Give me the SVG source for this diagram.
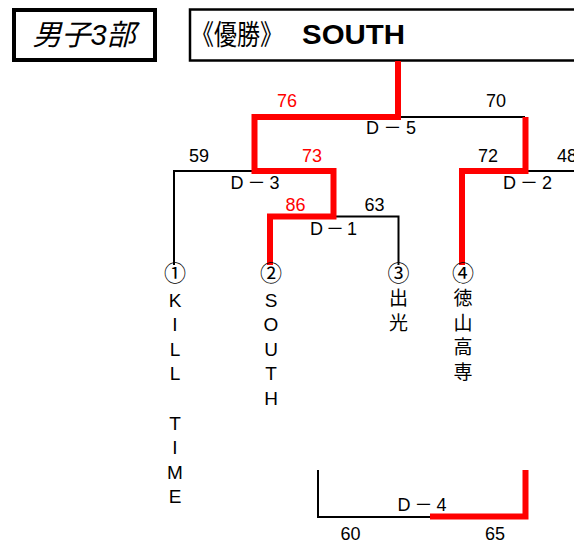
<svg xmlns="http://www.w3.org/2000/svg" width="574" height="544" viewBox="0 0 574 544">
<style>
text{font-family:"Liberation Sans","Noto Sans CJK JP",sans-serif;fill:#000}
.n{font-size:18px;text-anchor:middle}
.r{fill:#ff0000}
.m{font-size:18px;text-anchor:middle}
.t{font-size:19px;text-anchor:middle}
.j{font-family:"Noto Sans CJK JP",sans-serif;font-size:19px;text-anchor:middle}
.c{font-family:"Noto Sans CJK JP",sans-serif;font-size:22px;text-anchor:middle}
.bk{fill:none;stroke:#000;stroke-width:2}
.rd{fill:none;stroke:#ff0000;stroke-width:6;stroke-linejoin:miter;stroke-linecap:butt}
</style>
<rect width="574" height="544" fill="#fff"/>
<g id="title">
<rect x="14" y="10" width="141" height="50" fill="#fff" stroke="#000" stroke-width="4"/>
<text x="84" y="45" font-size="29" font-style="italic" text-anchor="middle">男子3部</text>
</g>
<g id="champion">
<rect x="190" y="9.5" width="390" height="51" fill="#fff" stroke="#000" stroke-width="2.5"/>
<text x="191" y="45" font-family="Noto Sans CJK JP, sans-serif" font-size="28" textLength="92" lengthAdjust="spacingAndGlyphs">《優勝》</text>
<text x="302" y="44" font-size="28" font-weight="bold" textLength="103" lengthAdjust="spacingAndGlyphs">SOUTH</text>
</g>
<g id="connectors">
<path class="bk" d="M174,265 V171 H254"/>
<path class="bk" d="M336,216.5 H398.5 V265"/>
<path class="bk" d="M401,117 H525"/>
<path class="bk" d="M528,171 H574"/>
<path class="bk" d="M318,470 V517 H430"/>
<path class="rd" d="M398,61 V117 H254.5 V171 H333.5 V216.5 H270 V265"/>
<path class="rd" d="M525.5,117 V171 H462 V265"/>
<path class="rd" d="M430,516.5 H525.5 V470"/>
</g>
<g id="scores">
<text class="n r" x="287" y="107">76</text>
<text class="n" x="496" y="107">70</text>
<text class="n" x="199" y="162">59</text>
<text class="n r" x="312" y="162">73</text>
<text class="n" x="488" y="162">72</text>
<text class="n" x="567" y="162">48</text>
<text class="n r" x="295.5" y="211">86</text>
<text class="n" x="374.5" y="211">63</text>
<text class="n" x="350.5" y="540">60</text>
<text class="n" x="495" y="540">65</text>
</g>
<g id="match-D5"><text class="m" x="391" y="134" textLength="50">D－5</text></g>
<g id="match-D3"><text class="m" x="255" y="189" textLength="49">D－3</text></g>
<g id="match-D2"><text class="m" x="527.5" y="189" textLength="49">D－2</text></g>
<g id="match-D1"><text class="m" x="333.5" y="235" textLength="47">D－1</text></g>
<g id="match-D4"><text class="m" x="422" y="511" textLength="49">D－4</text></g>
<g id="team1">
<text class="c" x="175" y="281">①</text>
<text class="t" x="175" y="307">K</text>
<text class="t" x="175" y="331">I</text>
<text class="t" x="175" y="356">L</text>
<text class="t" x="175" y="380">L</text>
<text class="t" x="175" y="430">T</text>
<text class="t" x="175" y="454">I</text>
<text class="t" x="175" y="479">M</text>
<text class="t" x="175" y="503">E</text>
</g>
<g id="team2">
<text class="c" x="271" y="281">②</text>
<text class="t" x="271" y="307">S</text>
<text class="t" x="271" y="331">O</text>
<text class="t" x="271" y="356">U</text>
<text class="t" x="271" y="380">T</text>
<text class="t" x="271" y="405">H</text>
</g>
<g id="team3">
<text class="c" x="398.5" y="281">③</text>
<text class="j" x="398.5" y="305">出</text>
<text class="j" x="398.5" y="330">光</text>
</g>
<g id="team4">
<text class="c" x="463" y="281">④</text>
<text class="j" x="463" y="305">徳</text>
<text class="j" x="463" y="330">山</text>
<text class="j" x="463" y="354">高</text>
<text class="j" x="463" y="379">専</text>
</g>
</svg>
